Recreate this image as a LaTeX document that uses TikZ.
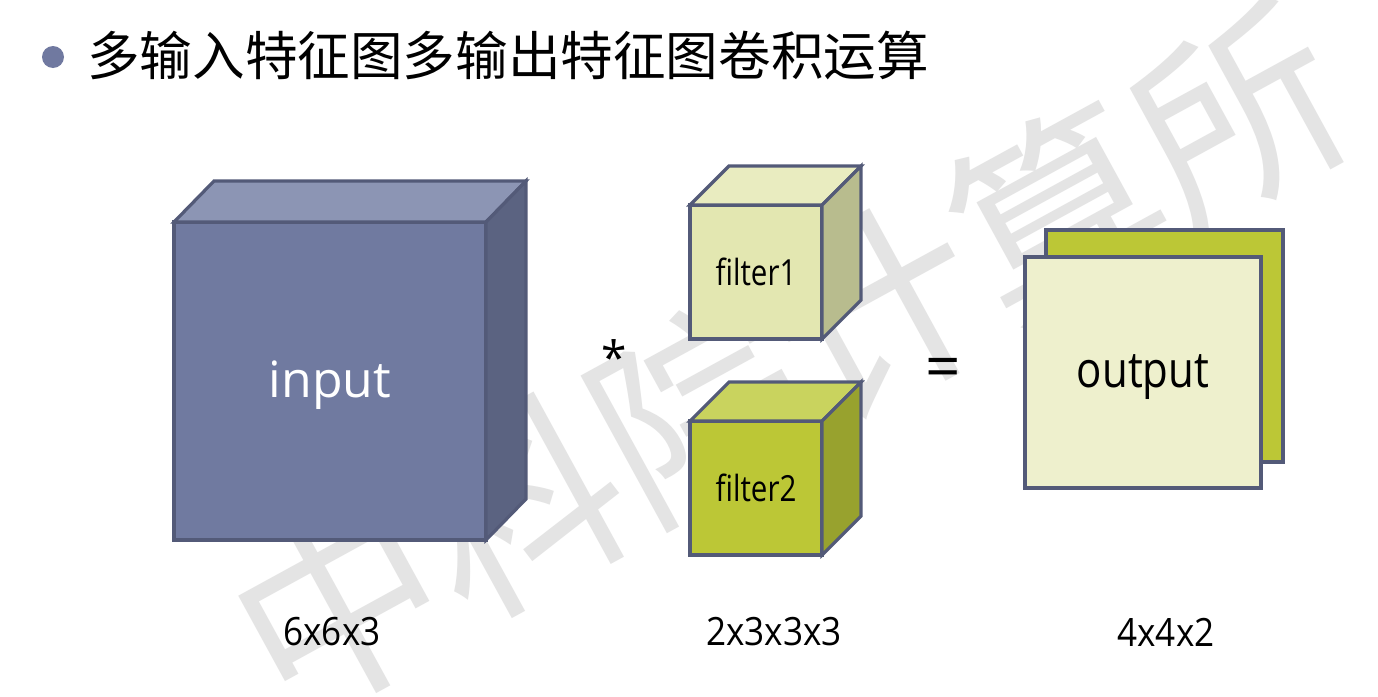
\documentclass[tikz,border=0pt]{standalone}
\usepackage{fontspec}
\usepackage{graphicx}
\setmainfont{Open Sans}
\newfontfamily\cjk{Noto Sans CJK SC}
\definecolor{edgec}{HTML}{535A78}
\definecolor{wmgray}{HTML}{E4E4E4}
\definecolor{bulletc}{HTML}{7079A0}
\definecolor{infront}{HTML}{707AA0}
\definecolor{intop}{HTML}{8C95B4}
\definecolor{inside}{HTML}{5B6381}
\definecolor{fonefront}{HTML}{E3E7B1}
\definecolor{fonetop}{HTML}{E9ECC0}
\definecolor{foneside}{HTML}{B8BC8E}
\definecolor{ftwofront}{HTML}{BCC736}
\definecolor{ftwotop}{HTML}{C9D35E}
\definecolor{ftwoside}{HTML}{98A22E}
\definecolor{outfront}{HTML}{EEF0CD}
\newcommand\narrowtxt[2]{\scalebox{#1}[1]{#2}}
\tikzset{
  face/.style={draw=edgec, line width=3.2pt, outer sep=0pt, inner sep=0pt},
  lbl/.style={font=\fontsize{39}{39}\selectfont, inner sep=0pt},
  facetxt/.style={font=\fontsize{36}{36}\selectfont},
}
\begin{document}
\begin{tikzpicture}[x=1pt,y=-1pt]
\useasboundingbox[fill=white] (0,0) rectangle (1378,696);
% watermark
\node[text=wmgray, rotate=28.7, font=\cjk\fontsize{205}{205}\selectfont, inner sep=0pt] (wm) at (788,360) {中科院计算所};
% title
\node[circle, fill=bulletc, minimum size=22pt, inner sep=0pt] (bullet) at (53,57) {};
\node[anchor=west, font=\cjk\fontsize{52.6}{52.6}\selectfont, inner sep=0pt] (title) at (87,55) {多输入特征图多输出特征图卷积运算};
% input cube
\node[face, fill=infront, minimum width=312pt, minimum height=318pt, anchor=north west] (input) at (174,222) {};
\node[text=white, font=\fontsize{50}{50}\selectfont, inner sep=0pt] (inputtxt) at ([yshift=-4pt]input.center) {input};
\draw[face, fill=intop] (input.north west) -- ++(40,-41) -- ++(312,0) -- (input.north east) -- cycle;
\draw[face, fill=inside] (input.north east) -- ++(40,-41) -- ++(0,318) -- (input.south east) -- cycle;
% filter1 cube
\node[face, fill=fonefront, minimum width=132pt, minimum height=134pt, anchor=north west, facetxt] (f1) at (690,205) {\narrowtxt{0.82}{filter1}};
\draw[face, fill=fonetop] (f1.north west) -- ++(39,-39) -- ++(132,0) -- (f1.north east) -- cycle;
\draw[face, fill=foneside] (f1.north east) -- ++(39,-39) -- ++(0,134) -- (f1.south east) -- cycle;
% filter2 cube
\node[face, fill=ftwofront, minimum width=132pt, minimum height=134pt, anchor=north west, facetxt] (f2) at (690,421) {\narrowtxt{0.82}{filter2}};
\draw[face, fill=ftwotop] (f2.north west) -- ++(39,-39) -- ++(132,0) -- (f2.north east) -- cycle;
\draw[face, fill=ftwoside] (f2.north east) -- ++(39,-39) -- ++(0,134) -- (f2.south east) -- cycle;
% output
\node[face, fill=ftwofront, minimum width=237pt, minimum height=232pt, anchor=north west] (outback) at (1046,230) {};
\node[face, fill=outfront, minimum width=236pt, minimum height=231pt, anchor=north west] (output) at (1025,257) {};
\node[font=\fontsize{50}{50}\selectfont, inner sep=0pt] (outputtxt) at ([yshift=-5pt]output.center) {\narrowtxt{0.84}{output}};
% operators
\node[font=\fontsize{46}{46}\selectfont, inner sep=0pt] (star) at (614,357) {*};
\node[font=\fontsize{62}{62}\selectfont, inner sep=0pt] (eq) at (943,373) {=};
% dimension labels
\node[lbl] (l1) at (332,632) {\narrowtxt{0.9}{6x6x3}};
\node[lbl] (l2) at (774,632) {\narrowtxt{0.9}{2x3x3x3}};
\node[lbl] (l3) at (1166,632) {\narrowtxt{0.9}{4x4x2}};
\end{tikzpicture}
\end{document}
